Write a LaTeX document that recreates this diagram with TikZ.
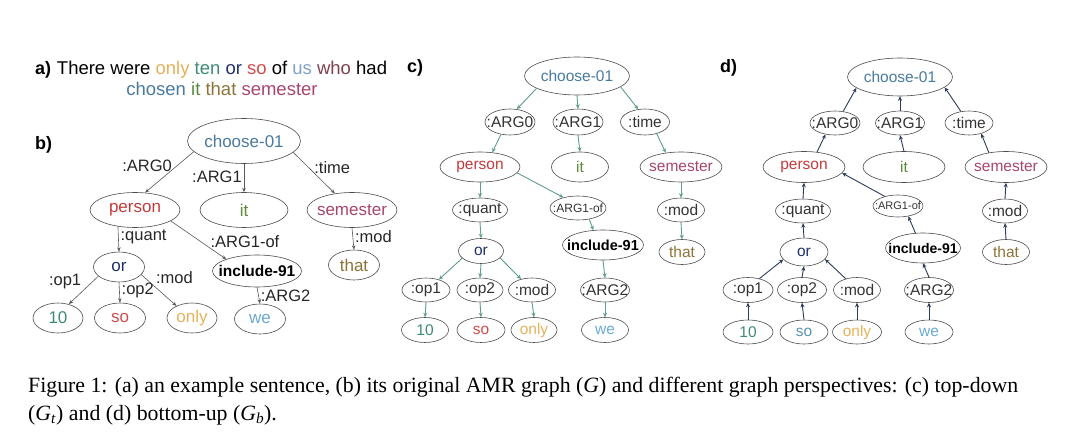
\documentclass[tikz,border=0pt]{standalone}
\usepackage{fontspec}
\setmainfont{Liberation Sans}
\newfontfamily\capfont{Liberation Serif}
\usetikzlibrary{shapes.geometric, arrows.meta, positioning}

\definecolor{chooseblue}{HTML}{4A7A9E}
\definecolor{personred}{HTML}{C23B3B}
\definecolor{itgreen}{HTML}{5A8A3A}
\definecolor{sempink}{HTML}{A8456E}
\definecolor{ornavy}{HTML}{1F2F6A}
\definecolor{thatolive}{HTML}{8C7438}
\definecolor{tenteal}{HTML}{3F8A76}
\definecolor{sored}{HTML}{D24B4B}
\definecolor{onlygold}{HTML}{E5B25A}
\definecolor{weblue}{HTML}{6AAAD4}
\definecolor{usblue}{HTML}{7FA2C8}
\definecolor{whobrown}{HTML}{7E3F50}
\definecolor{sodblue}{HTML}{5A90B0}
\definecolor{cteal}{HTML}{5F9D8C}
\definecolor{dnavy}{HTML}{2E3A5A}

\tikzset{
  snug/.style={execute at begin node={\hbox to 0pt\bgroup\hss},
               execute at end node={\hss\egroup}},
  amr/.style 2 args={ellipse, draw=black!70, line width=0.6pt, inner sep=0pt,
                     minimum width=#1, minimum height=#2, snug},
  bfont/.style={font=\fontsize{17}{20}\selectfont},
  cfont/.style={font=\fontsize{15.5}{18}\selectfont},
  rel/.style={text=black!80},
  bedge/.style={draw=black!65, line width=0.6pt, -{Stealth[length=4.5pt,width=3.5pt]}},
  cedge/.style={draw=cteal, line width=0.9pt, -{Stealth[length=4.5pt,width=4pt]}},
  dedge/.style={draw=dnavy, line width=0.9pt, -{Stealth[length=4.5pt,width=4pt]}},
  elab/.style={font=\fontsize{16.5}{19}\selectfont, text=black!85, inner sep=1pt},
  panel/.style={font=\bfseries\fontsize{18}{21}\selectfont, anchor=base west, inner sep=0pt},
}

\begin{document}
\begin{tikzpicture}[x=1pt, y=-1pt]
\useasboundingbox (0,0) rectangle (1080,433);

% a) sentence
\node[panel] (la) at (35,75) {a)};
\node[anchor=base, align=center, inner sep=0pt, font=\fontsize{18.5}{20.5}\selectfont] (sent) at (222,95.5)
  {There were \textcolor{onlygold}{only} \textcolor{tenteal}{ten} \textcolor{ornavy}{or}
   \textcolor{sored}{so} of \textcolor{usblue}{us} \textcolor{whobrown}{who} had\\
   \textcolor{chooseblue}{chosen} \textcolor{itgreen}{it} \textcolor{thatolive}{that}
   \textcolor{sempink}{semester}};

% b) original graph
\node[panel] (lb) at (35,150) {b)};
\node[amr={113}{45}, bfont, text=chooseblue] (b-choose) at (244,141) {choose-01};
\node[amr={90}{35}, bfont, text=personred] (b-person) at (135,210) {person};
\node[amr={88}{35}, bfont, text=itgreen] (b-it) at (244,210) {it};
\node[amr={90}{35}, bfont, text=sempink] (b-sem) at (352,210) {semester};
\node[amr={51}{30}, bfont, text=ornavy] (b-or) at (119,267) {or};
\node[amr={89}{32}, font=\bfseries\fontsize{15.5}{18}\selectfont] (b-incl) at (257,271) {include-91};
\node[amr={51}{30}, bfont, text=thatolive] (b-that) at (354,265) {that};
\node[amr={50}{30}, bfont, text=tenteal] (b-10) at (58,318) {10};
\node[amr={51}{30}, bfont, text=sored] (b-so) at (120,318) {so};
\node[amr={50}{30}, bfont, text=onlygold] (b-only) at (192,318) {only};
\node[amr={51}{30}, bfont, text=weblue] (b-we) at (260,319) {we};

\draw[bedge] (b-choose.192) -- node[elab, pos=0.34, left=4pt] {:ARG0} (b-person.60);
\draw[bedge] (b-choose.south) -- node[elab, pos=0.45, left=1pt] {:ARG1} (b-it.north);
\draw[bedge] (b-choose.347) -- node[elab, pos=0.38, right=4pt] {:time} (b-sem.136);
\draw[bedge] (b-person.224) -- node[elab, pos=0.4, right=1pt] {:quant} (b-or.north);
\draw[bedge] (b-person.343) -- node[elab, pos=0.55, right=8pt] {:ARG1-of} (b-incl.159);
\draw[bedge] (b-sem.south) -- node[elab, pos=0.4, right=1pt] {:mod} (b-that.north);
\draw[bedge] (b-or.204) -- node[elab, pos=0.2, left=10pt] {:op1} (b-10.52);
\draw[bedge] (b-or.south) -- node[elab, pos=0.4, right=1pt] {:op2} (b-so.north);
\draw[bedge] (b-or.341) -- node[elab, pos=0.1, right=10pt] {:mod} (b-only.142);
\draw[bedge] (b-incl.south) -- node[elab, pos=0.5, right=1pt] {:ARG2} (b-we.north);

% c) top-down
\node[panel] (lc) at (407,73) {c)};
\node[amr={105}{38}, cfont, text=chooseblue] (c-choose) at (577,76) {choose-01};
\node[amr={50}{26}, cfont, rel] (c-arg0) at (510,122) {:ARG0};
\node[amr={50}{26}, cfont, rel] (c-arg1) at (578,122) {:ARG1};
\node[amr={49}{26}, cfont, rel] (c-time) at (645,122) {:time};
\node[amr={80}{30}, cfont, text=personred] (c-person) at (480,167) {person};
\node[amr={57}{30}, cfont, text=itgreen] (c-it) at (580,167) {it};
\node[amr={82}{30}, cfont, text=sempink] (c-sem) at (681,167) {semester};
\node[amr={55}{24}, cfont, rel] (c-quant) at (480,210) {:quant};
\node[amr={56}{24}, rel, font=\fontsize{12}{14}\selectfont] (c-arg1of) at (578,208) {:ARG1-of};
\node[amr={47}{24}, cfont, rel] (c-mod) at (681,210) {:mod};
\node[amr={45}{25}, cfont, text=ornavy] (c-or) at (481,251) {or};
\node[amr={81}{30}, font=\bfseries\fontsize{14.5}{17}\selectfont] (c-incl) at (603,245) {include-91};
\node[amr={46}{25}, cfont, text=thatolive] (c-that) at (682,252) {that};
\node[amr={48}{24}, cfont, rel] (c-op1) at (426,290) {:op1};
\node[amr={46}{24}, cfont, rel] (c-op2) at (480,290) {:op2};
\node[amr={47}{24}, cfont, rel] (c-mod2) at (532,290) {:mod};
\node[amr={49}{24}, cfont, rel] (c-arg2) at (605,290) {:ARG2};
\node[amr={47}{25}, cfont, text=tenteal] (c-10) at (425,330) {10};
\node[amr={48}{25}, cfont, text=sored] (c-so) at (481,330) {so};
\node[amr={46}{25}, cfont, text=onlygold] (c-only) at (534,330) {only};
\node[amr={47}{25}, cfont, text=weblue] (c-we) at (605,330) {we};

\foreach \from/\to in {c-choose.197/c-arg0.62, c-choose.south/c-arg1.north, c-choose.346/c-time.118,
    c-arg0.234/c-person.50, c-arg1.south/c-it.north, c-time.315/c-sem.137,
    c-person.south/c-quant.north, c-person.351/c-arg1of.144, c-sem.south/c-mod.north,
    c-quant.south/c-or.north, c-arg1of.315/c-incl.123, c-mod.south/c-that.north,
    c-or.201/c-op1.39, c-or.south/c-op2.north, c-or.340/c-mod2.135, c-incl.south/c-arg2.north,
    c-op1.south/c-10.north, c-op2.south/c-so.north, c-mod2.south/c-only.north, c-arg2.south/c-we.north}
    \draw[cedge] (\from) -- (\to);

% d) bottom-up
\node[panel] (ld) at (720,73) {d)};
\node[amr={105}{38}, cfont, text=chooseblue] (d-choose) at (900,77) {choose-01};
\node[amr={50}{24}, cfont, rel] (d-arg0) at (835,123) {:ARG0};
\node[amr={49}{24}, cfont, rel] (d-arg1) at (900,123) {:ARG1};
\node[amr={48}{24}, cfont, rel] (d-time) at (969,123) {:time};
\node[amr={82}{31}, cfont, text=personred] (d-person) at (804,167) {person};
\node[amr={82}{31}, cfont, text=itgreen] (d-it) at (904,167) {it};
\node[amr={82}{31}, cfont, text=sempink] (d-sem) at (1006,167) {semester};
\node[amr={55}{24}, cfont, rel] (d-quant) at (803,211) {:quant};
\node[amr={50}{22}, rel, font=\fontsize{11}{13}\selectfont] (d-arg1of) at (898,206) {:ARG1-of};
\node[amr={45}{24}, cfont, rel] (d-mod) at (1005,211) {:mod};
\node[amr={48}{28}, cfont, text=ornavy] (d-or) at (804,252) {or};
\node[amr={75}{30}, font=\bfseries\fontsize{14}{17}\selectfont] (d-incl) at (923,248) {include-91};
\node[amr={47}{25}, cfont, text=thatolive] (d-that) at (1006,252) {that};
\node[amr={50}{25}, cfont, rel] (d-op1) at (748,290) {:op1};
\node[amr={49}{25}, cfont, rel] (d-op2) at (802,290) {:op2};
\node[amr={47}{25}, cfont, rel] (d-mod2) at (857,290) {:mod};
\node[amr={49}{25}, cfont, rel] (d-arg2) at (929,290) {:ARG2};
\node[amr={50}{24}, cfont, text=tenteal] (d-10) at (748,332) {10};
\node[amr={48}{24}, cfont, text=sodblue] (d-so) at (804,332) {so};
\node[amr={49}{24}, cfont, text=onlygold] (d-only) at (857,332) {only};
\node[amr={48}{24}, cfont, text=weblue] (d-we) at (929,332) {we};

\foreach \from/\to in {d-arg0.55/d-choose.194, d-arg1.north/d-choose.south, d-time.125/d-choose.347,
    d-person.49/d-arg0.230, d-it.north/d-arg1.south, d-sem.140/d-time.319,
    d-quant.north/d-person.south, d-arg1of.144/d-person.351, d-mod.north/d-sem.south,
    d-or.north/d-quant.south, d-incl.117/d-arg1of.315, d-that.north/d-mod.south,
    d-op1.45/d-or.200, d-op2.north/d-or.south, d-mod2.135/d-or.341, d-arg2.north/d-incl.south,
    d-10.north/d-op1.south, d-so.north/d-op2.south, d-only.north/d-mod2.south, d-we.north/d-arg2.south}
    \draw[dedge] (\from) -- (\to);

% caption
\node[anchor=base west, align=left, inner sep=0pt, font=\capfont\fontsize{21.8}{28}\selectfont] (cap) at (28,420)
  {Figure 1: (a) an example sentence, (b) its original AMR graph (\textit{G}) and different graph perspectives: (c) top-down\\
   (\textit{G}\textsubscript{\textit{t}}) and (d) bottom-up (\textit{G}\textsubscript{\textit{b}}).};
\end{tikzpicture}
\end{document}
